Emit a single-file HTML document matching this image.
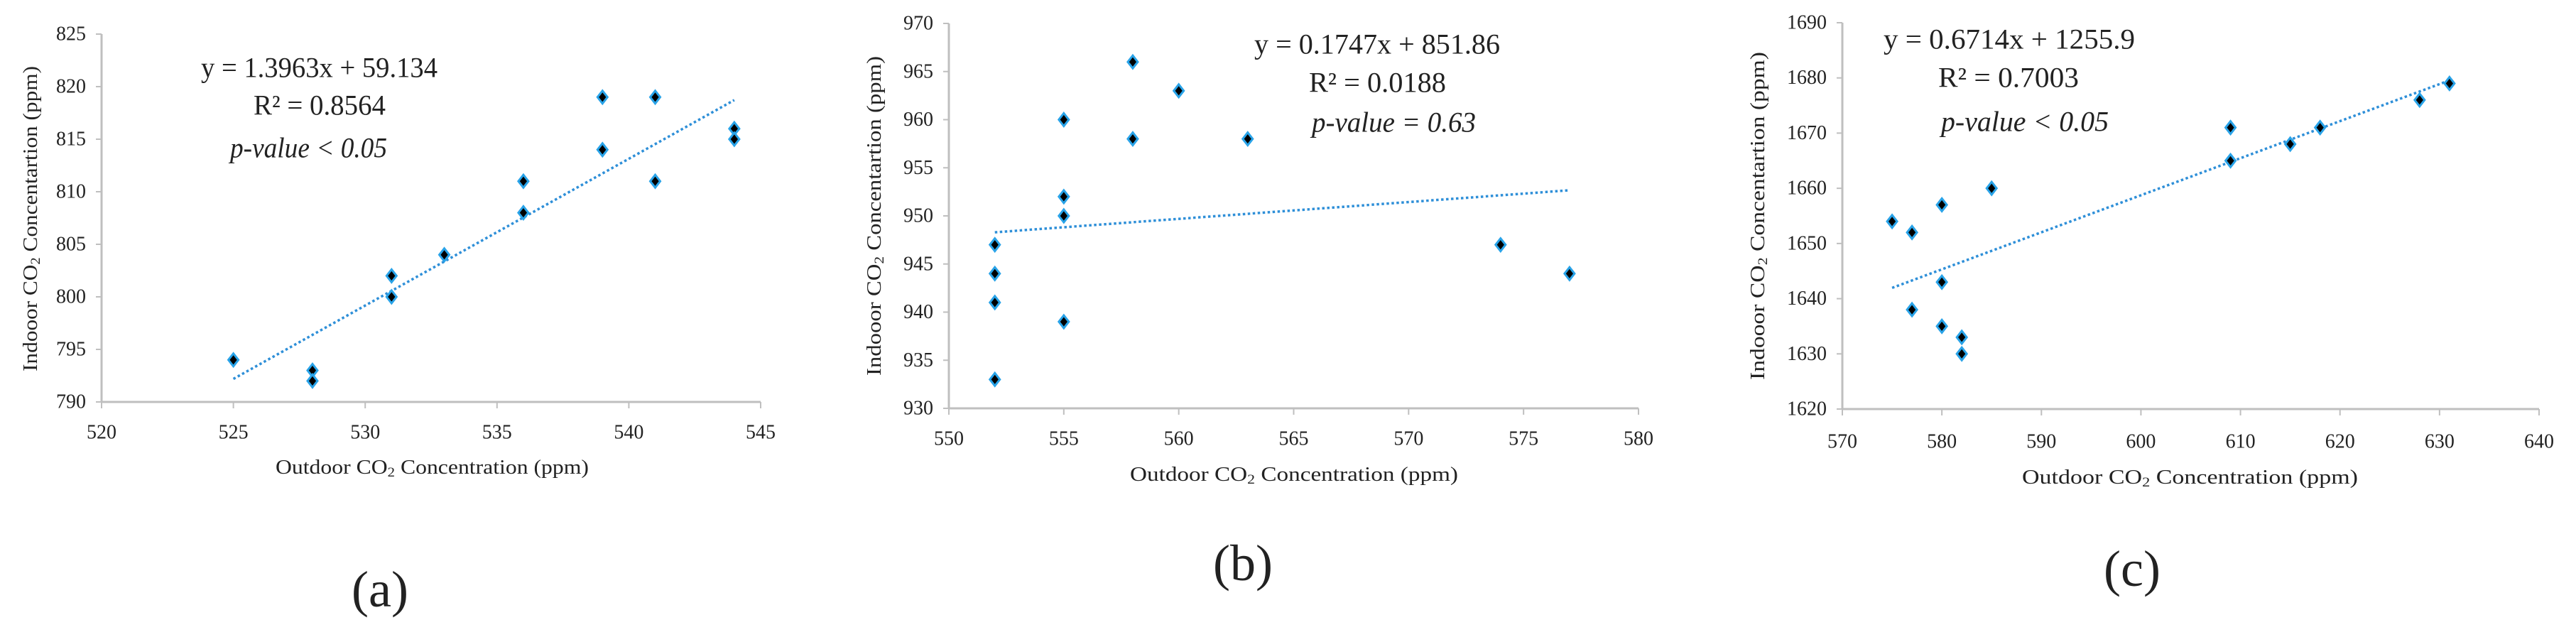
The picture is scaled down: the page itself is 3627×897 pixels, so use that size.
<!DOCTYPE html>
<html><head><meta charset="utf-8"><style>
html,body{margin:0;padding:0;background:#fff;}
svg{display:block;}
text{font-family:"Liberation Serif",serif;fill:#222;}
</style></head><body>
<svg id="chart" width="3627" height="897" viewBox="0 0 3627 897" xmlns="http://www.w3.org/2000/svg"></svg>
<script>
// Panel (a)
const aX = [525,528,528,531,531,533,536,536,539,539,541,541,544,544];
const aY = [794,793,792,802,800,804,811,808,819,814,819,811,816,815];
const aXTicks = [520,525,530,535,540,545];
const aYTicks = [790,795,800,805,810,815,820,825];
const aEq = ["y = 1.3963x + 59.134","R² = 0.8564","p-value < 0.05"];
const aFit = [1.3963, 59.134];
// Panel (b)
const bX = [552,552,552,552,555,555,555,555,558,558,560,563,574,577];
const bY = [947,944,941,933,960,952,950,939,966,958,963,958,947,944];
const bXTicks = [550,555,560,565,570,575,580];
const bYTicks = [930,935,940,945,950,955,960,965,970];
const bEq = ["y = 0.1747x + 851.86","R² = 0.0188","p-value = 0.63"];
const bFit = [0.1747, 851.86];
// Panel (c)
const cX = [575,577,577,580,580,580,582,582,585,609,609,615,618,628,631];
const cY = [1654,1652,1638,1657,1643,1635,1633,1630,1660,1671,1665,1668,1671,1676,1679];
const cXTicks = [570,580,590,600,610,620,630,640];
const cYTicks = [1620,1630,1640,1650,1660,1670,1680,1690];
const cEq = ["y = 0.6714x + 1255.9","R² = 0.7003","p-value < 0.05"];
const cFit = [0.6714, 1255.9];

const NS="http://www.w3.org/2000/svg";
const svg=document.getElementById('chart');
function mk(tag,attrs,parent){const e=document.createElementNS(NS,tag);for(const k in attrs)e.setAttribute(k,attrs[k]);(parent||svg).appendChild(e);return e;}

function panel(id,xs,ys,xt,yt,eq,fit,L,eqPos,ytitle,xtitle,lab){
  const g=mk('g',{});
  
  
  const x0=xt[0],x1=xt[xt.length-1],y0=yt[0],y1=yt[yt.length-1];
  const sx=v=>L.l+(v-x0)/(x1-x0)*(L.r-L.l);
  const sy=v=>L.b-(v-y0)/(y1-y0)*(L.b-L.t);
  const ax=mk('line',{x1:L.l,y1:L.b,x2:L.r,y2:L.b,stroke:'#bfbfbf','stroke-width':3},g);
  
  
  const ay=mk('line',{x1:L.l,y1:L.t,x2:L.l,y2:L.b,stroke:'#bfbfbf','stroke-width':3},g);
  
  
  xt.forEach(v=>{
    mk('line',{x1:sx(v),y1:L.b,x2:sx(v),y2:L.b+9,stroke:'#bfbfbf','stroke-width':2},g);
    const t=mk('text',{x:sx(v),y:L.xl,'text-anchor':'middle','dominant-baseline':'central','font-size':28},g);
    t.textContent=v;
    
    
  });
  yt.forEach(v=>{
    mk('line',{x1:L.l-8,y1:sy(v),x2:L.l,y2:sy(v),stroke:'#bfbfbf','stroke-width':2},g);
    const t=mk('text',{x:L.l-22,y:sy(v),'text-anchor':'end','dominant-baseline':'central','font-size':28},g);
    t.textContent=v;
    
    
  });
  const fx0=Math.min(...xs),fx1=Math.max(...xs);
  const tl=mk('line',{x1:sx(fx0),y1:sy(fit[0]*fx0+fit[1]),x2:sx(fx1),y2:sy(fit[0]*fx1+fit[1]),stroke:'#2e8fd8','stroke-width':3.5,'stroke-dasharray':'3.5 3.5'},g);
  
  
  xs.forEach((v,i)=>{
    const cx=sx(v),cy=sy(ys[i]);
    const d=mk('path',{d:`M${cx},${cy-9}L${cx+7},${cy}L${cx},${cy+9}L${cx-7},${cy}Z`,fill:'#000',stroke:'#29a3e8','stroke-width':3},g);
    
    
  });
  eq.forEach((s,i)=>{
    const p=eqPos[i];
    const t=mk('text',{x:p[0],y:p[1],'dominant-baseline':'central','font-size':40,textLength:p[2],lengthAdjust:'spacingAndGlyphs'},g);
    if(i===2)t.setAttribute('font-style','italic');
    t.textContent=s;
    
    
  });
  const yt2=mk('text',{x:0,y:0,transform:`translate(${ytitle[0]},${ytitle[1]}) rotate(-90)`,'text-anchor':'middle','dominant-baseline':'central','font-size':29,textLength:ytitle[2],lengthAdjust:'spacingAndGlyphs'},g);
  yt2.innerHTML='Indooor CO<tspan font-size="19" dy="7">2</tspan><tspan dy="-7"> Concentartion (ppm)</tspan>';
  
  
  const xt2=mk('text',{x:xtitle[0],y:xtitle[1],'dominant-baseline':'central','font-size':29,textLength:xtitle[2],lengthAdjust:'spacingAndGlyphs'},g);
  xt2.innerHTML='Outdoor CO<tspan font-size="19" dy="7">2</tspan><tspan dy="-7"> Concentration (ppm)</tspan>';
  
  
  const lb=mk('text',{x:lab[0],y:lab[1],'text-anchor':'middle','dominant-baseline':'central','font-size':72},g);
  lb.textContent='('+id+')';
  
  
}
panel('a',aX,aY,aXTicks,aYTicks,aEq,aFit,{l:143,r:1071,t:48,b:566,xl:609},
  [[283,95,333],[357,148,186],[324,208,221]],[43,308,430],[388,658,441],[535,830]);
panel('b',bX,bY,bXTicks,bYTicks,bEq,bFit,{l:1336,r:2307,t:33,b:575,xl:618},
  [[1766,62,346],[1843,116,193],[1847,172,231]],[1231,304,450],[1591,668,462],[1750,793]);
panel('c',cX,cY,cXTicks,cYTicks,cEq,cFit,{l:2594,r:3575,t:32,b:576,xl:622},
  [[2652,55,354],[2729,109,198],[2733,171,236]],[2475,304,462],[2847,672,473],[3002,801]);
</script>
</body></html>
